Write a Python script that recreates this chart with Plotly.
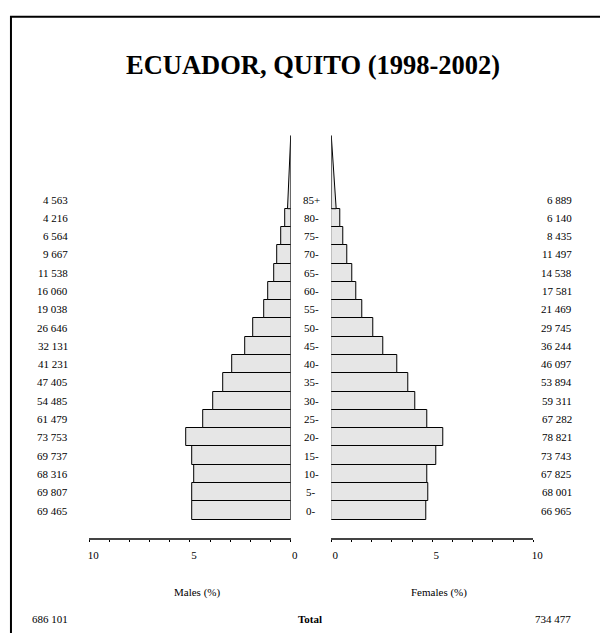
import plotly.graph_objects as go

# ---- data ----
ages = ["0-", "5-", "10-", "15-", "20-", "25-", "30-", "35-", "40-", "45-",
        "50-", "55-", "60-", "65-", "70-", "75-", "80-", "85+"]
males = [69465, 69807, 68316, 69737, 73753, 61479, 54485, 47405, 41231, 32131,
         26646, 19038, 16060, 11538, 9667, 6564, 4216, 4563]
females = [66965, 68001, 67825, 73743, 78821, 67282, 59311, 53894, 46097, 36244,
           29745, 21469, 17581, 14538, 11497, 8435, 6140, 6889]
total_males = 686101
total_females = 734477
title_text = "ECUADOR, QUITO (1998-2002)"
tick_vals = list(range(0, 11))
tick_text = ["0", "", "", "", "", "5", "", "", "", "", "10"]
male_label = "Males (%)"
female_label = "Females (%)"
total_label = "Total"

# ---- derived ----
grand = total_males + total_females
m_pct = [v / grand * 100 for v in males]
f_pct = [v / grand * 100 for v in females]
idx = list(range(len(ages)))


def fmt(n):
    return f"{n:,}".replace(",", " ")


# page is 608x633, the browser body has an 8px margin
OX, OY = 8, 8
W, H = 608 - OX, 633 - OY


def px(x):
    return (x - OX) / W


def py(y):
    return 1 - (y - OY) / H


FONT = "Liberation Serif, Times New Roman, serif"
GRAY = "#e6e6e6"

row_px = 18.29
y0_px = 510.5
r0 = -(633 - y0_px) / row_px
r1 = r0 + H / row_px

axis_pos = py(539.3)
m_dom = [px(89.7), px(295.0)]
f_dom = [px(336.3), px(542.0)]

fig = go.Figure()

n_bar = len(ages) - 1  # last group drawn as wedge
fig.add_trace(go.Bar(x=m_pct[:n_bar], y=idx[:n_bar], orientation="h", width=1,
                     marker=dict(color=GRAY, line=dict(color="black", width=1)),
                     xaxis="x", yaxis="y", showlegend=False, hoverinfo="skip"))
fig.add_trace(go.Bar(x=f_pct[:n_bar], y=idx[:n_bar], orientation="h", width=1,
                     marker=dict(color=GRAY, line=dict(color="black", width=1)),
                     xaxis="x2", yaxis="y", showlegend=False, hoverinfo="skip"))

# open-ended group as wedge (area preserving: half base, 4 rows high)
last = idx[-1]
base = last - 0.5
for pct, xa in ((m_pct[-1], "x"), (f_pct[-1], "x2")):
    fig.add_trace(go.Scatter(x=[0, pct / 2, 0, 0], y=[base, base, base + 4, base],
                             mode="lines", fill="toself", fillcolor=GRAY,
                             line=dict(color="black", width=1),
                             xaxis=xa, yaxis="y", showlegend=False, hoverinfo="skip"))

small = dict(family=FONT, size=11, color="black")
annotations = []
for i, a in enumerate(ages):
    annotations.append(dict(x=px(70.5), y=idx[i], xref="paper", yref="y", text=fmt(males[i]),
                            showarrow=False, xanchor="right", yanchor="middle", font=small))
    annotations.append(dict(x=px(316), y=idx[i], xref="paper", yref="y", text=a,
                            showarrow=False, xanchor="center", yanchor="middle", font=small))
    annotations.append(dict(x=px(584), y=idx[i], xref="paper", yref="y", text=fmt(females[i]),
                            showarrow=False, xanchor="right", yanchor="middle", font=small))

annotations += [
    dict(x=px(199.5), y=py(592.5), xref="paper", yref="paper", text=male_label,
         showarrow=False, xanchor="center", yanchor="middle", font=small),
    dict(x=px(446.5), y=py(592.5), xref="paper", yref="paper", text=female_label,
         showarrow=False, xanchor="center", yanchor="middle", font=small),
    dict(x=px(315), y=py(619), xref="paper", yref="paper", text=f"<b>{total_label}</b>",
         showarrow=False, xanchor="center", yanchor="middle", font=small),
    dict(x=px(70.5), y=py(619), xref="paper", yref="paper", text=fmt(total_males),
         showarrow=False, xanchor="right", yanchor="middle", font=small),
    dict(x=px(583), y=py(619), xref="paper", yref="paper", text=fmt(total_females),
         showarrow=False, xanchor="right", yanchor="middle", font=small),
    dict(x=px(318), y=py(65), xref="paper", yref="paper", text=f"<b>{title_text}</b>",
         showarrow=False, xanchor="center", yanchor="middle",
         font=dict(family=FONT, size=26.5, color="black")),
]

common_axis = dict(anchor="free", position=axis_pos, autorange=False,
                   showgrid=False, zeroline=False, fixedrange=True)

fig.update_layout(
    width=W, height=H, autosize=False,
    margin=dict(l=0, r=0, t=0, b=0),
    paper_bgcolor="white", plot_bgcolor="rgba(0,0,0,0)",
    bargap=0,
    font=dict(family=FONT, size=11, color="black"),
    xaxis=dict(domain=m_dom, range=[10, 0], tickvals=tick_vals, ticktext=tick_text,
               ticks="outside", ticklen=2, tickwidth=1, tickcolor="black",
               showline=True, linecolor="#444", linewidth=1.5,
               ticklabelstandoff=4, ticklabelshift=-4,
               tickfont=small, **common_axis),
    xaxis2=dict(domain=f_dom, range=[0, 10], tickvals=tick_vals, ticktext=tick_text,
                ticks="outside", ticklen=2, tickwidth=1, tickcolor="black",
                showline=True, linecolor="#444", linewidth=1.5,
                ticklabelstandoff=4, ticklabelshift=4,
                tickfont=small, **common_axis),
    xaxis3=dict(domain=m_dom, range=[10, 0], overlaying="x", tickvals=tick_vals,
                ticks="inside", ticklen=2, tickwidth=1, tickcolor="black",
                showticklabels=False, showline=False, **common_axis),
    xaxis4=dict(domain=f_dom, range=[0, 10], overlaying="x2", tickvals=tick_vals,
                ticks="inside", ticklen=2, tickwidth=1, tickcolor="black",
                showticklabels=False, showline=False, **common_axis),
    yaxis=dict(domain=[0, 1], range=[r0, r1], visible=False, fixedrange=True),
    annotations=annotations,
    shapes=[dict(type="rect", xref="paper", yref="paper",
                 x0=px(10), x1=1.05, y0=-0.05, y1=py(16.7),
                 line=dict(color="black", width=2), fillcolor="rgba(0,0,0,0)")],
)

fig.write_html("out.html")
